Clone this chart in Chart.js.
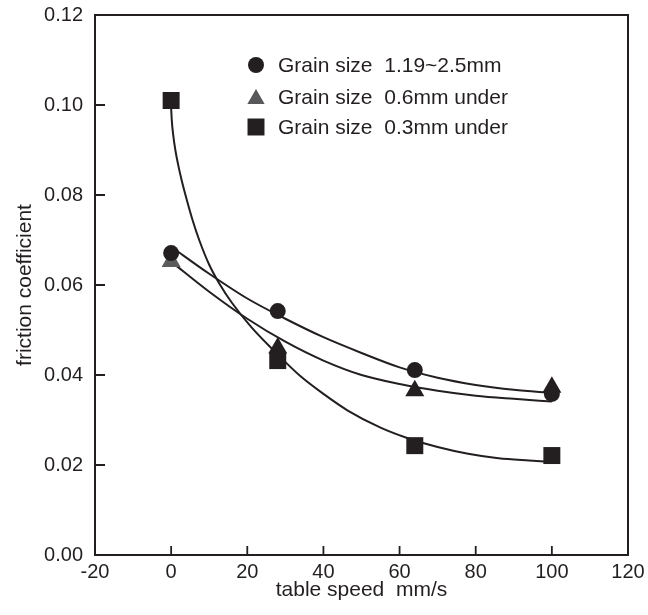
<!DOCTYPE html>
<html>
<head>
<meta charset="utf-8">
<script src="https://cdn.jsdelivr.net/npm/chart.js@4/dist/chart.umd.min.js"></script>
<style>
  html, body { margin: 0; padding: 0; background: #ffffff; }
  #wrap { width: 648px; height: 615px; }
</style>
</head>
<body>
<div id="wrap"><canvas id="chart" width="648" height="615"></canvas></div>
<script>
// Measured friction coefficients at each table speed (mm/s)
const speeds = [0, 28, 64, 100];
const coarseGrain = [0.0671, 0.0542, 0.0411, 0.0358];   // 1.19~2.5mm
const mediumGrain = [0.0652, 0.0460, 0.0365, 0.0373];   // 0.6mm under
const fineGrain   = [0.101, 0.0432, 0.0243, 0.0221];    // 0.3mm under

// Trend curves through each series
const fitSpeeds = [0, 10, 20, 30, 40, 50, 60, 70, 80, 90, 100];
const coarseFit = [0.0685, 0.0625, 0.0570, 0.0525, 0.0484, 0.0449, 0.0417, 0.0394, 0.0378, 0.0367, 0.0360];
const mediumFit = [0.0652, 0.0585, 0.0525, 0.0474, 0.0432, 0.0400, 0.0380, 0.0365, 0.0354, 0.0347, 0.0341];
const fineFitSpeeds = [0, 0.16, 0.55, 1.1, 1.85, 2.76, 4.12, 5.64, 7.37, 10, 12.6, 16, 21, 27, 34, 40, 46.4, 55, 62, 70, 78, 86, 94, 100];
const fineFit = [0.0993, 0.0967, 0.0933, 0.0900, 0.0867, 0.0833, 0.0789, 0.0744, 0.0700, 0.0645, 0.0604, 0.0560, 0.0507, 0.0454, 0.0397, 0.0358, 0.0321, 0.0283, 0.0260, 0.0240, 0.0225, 0.0215, 0.0210, 0.0207];

// Axis ticks
const xTicks = [-20, 0, 20, 40, 60, 80, 100, 120];
const yTicks = [0, 0.02, 0.04, 0.06, 0.08, 0.10, 0.12];

const seriesLabels = ['Grain size  1.19~2.5mm', 'Grain size  0.6mm under', 'Grain size  0.3mm under'];

const INK = '#231f20';
const FONT = "'Liberation Sans', Arial, Helvetica, sans-serif";

const pts = (xs, ys) => xs.map((x, i) => ({ x: x, y: ys[i] }));

const curve = (xs, ys) => ({
  data: pts(xs, ys),
  showLine: true,
  borderColor: INK,
  borderWidth: 2,
  pointRadius: 0,
  pointHoverRadius: 0,
  cubicInterpolationMode: 'monotone',
  fill: false,
  order: 2
});

const markers = (label, ys, style, radius, fillColors) => ({
  label: label,
  data: pts(speeds, ys),
  showLine: false,
  pointStyle: style,
  pointRadius: radius,
  pointBackgroundColor: fillColors,
  pointBorderColor: fillColors,
  pointBorderWidth: 0,
  order: 1
});

// Inward ticks, frame and the in-plot key
const framePlugin = {
  id: 'frame',
  afterDraw(chart) {
    const ctx = chart.ctx;
    const a = chart.chartArea;
    const xs = chart.scales.x, ys = chart.scales.y;
    ctx.save();
    ctx.strokeStyle = INK;
    ctx.lineWidth = 2;
    ctx.strokeRect(a.left, a.top, a.right - a.left, a.bottom - a.top);
    ctx.lineWidth = 1.8;
    ctx.beginPath();
    xTicks.forEach(v => {
      const p = xs.getPixelForValue(v);
      ctx.moveTo(p, a.bottom);
      ctx.lineTo(p, a.bottom - 9);
    });
    yTicks.forEach(v => {
      const p = ys.getPixelForValue(v);
      ctx.moveTo(a.left, p);
      ctx.lineTo(a.left + 10, p);
    });
    ctx.stroke();

    // key
    const keyX = a.left + 161;
    const textX = a.left + 183;
    const rows = [a.top + 50, a.top + 82, a.top + 112];
    const keyStyles = [
      { style: 'circle', r: 8, fill: INK },
      { style: 'triangle', r: 10, fill: '#58585a' },
      { style: 'rect', r: 12, fill: INK }
    ];
    ctx.font = '21px ' + FONT;
    ctx.textBaseline = 'middle';
    ctx.textAlign = 'left';
    keyStyles.forEach((k, i) => {
      ctx.fillStyle = k.fill;
      ctx.strokeStyle = k.fill;
      Chart.helpers.drawPoint(ctx, { pointStyle: k.style, radius: k.r, borderWidth: 0, rotation: 0 }, keyX, rows[i] + (k.style === 'triangle' ? 2 : 0));
      ctx.fillStyle = INK;
      ctx.fillText(seriesLabels[i], textX, rows[i] + 1);
    });
    ctx.restore();
  }
};

const noEdgePadding = s => {
  s.paddingTop = 0; s.paddingBottom = 0; s.paddingLeft = 0; s.paddingRight = 0;
};

new Chart(document.getElementById('chart'), {
  type: 'scatter',
  data: {
    datasets: [
      curve(fitSpeeds, coarseFit),
      curve(fitSpeeds, mediumFit),
      curve(fineFitSpeeds, fineFit),
      markers(seriesLabels[0], coarseGrain, 'circle', 8, INK),
      markers(seriesLabels[1], mediumGrain, 'triangle', 11, ['#5c5c5e', INK, INK, INK]),
      markers(seriesLabels[2], fineGrain, 'rect', 12, INK)
    ]
  },
  options: {
    responsive: false,
    animation: false,
    events: [],
    layout: { padding: { top: 15, right: 20, left: 0, bottom: 0 } },
    plugins: {
      legend: { display: false },
      tooltip: { enabled: false }
    },
    scales: {
      x: {
        type: 'linear',
        min: -20,
        max: 120,
        afterBuildTicks: s => { s.ticks = xTicks.map(v => ({ value: v })); },
        afterFit: s => { s.height = 60; noEdgePadding(s); },
        grid: { display: false, drawTicks: false },
        border: { display: false },
        ticks: {
          color: INK,
          font: { family: FONT, size: 20 },
          padding: 5,
          maxRotation: 0,
          callback: v => String(v)
        },
        title: {
          display: true,
          text: 'table speed  mm/s',
          color: INK,
          font: { family: FONT, size: 21 },
          padding: { top: 0, bottom: 12 }
        }
      },
      y: {
        type: 'linear',
        min: 0,
        max: 0.12,
        afterBuildTicks: s => { s.ticks = yTicks.map(v => ({ value: v })); },
        afterFit: s => { s.width = 95; noEdgePadding(s); },
        grid: { display: false, drawTicks: false },
        border: { display: false },
        ticks: {
          color: INK,
          font: { family: FONT, size: 20 },
          padding: 12,
          callback: v => Number(v).toFixed(2)
        },
        title: {
          display: true,
          text: 'friction coefficient',
          color: INK,
          font: { family: FONT, size: 21 },
          padding: { top: 13, bottom: 0 }
        }
      }
    }
  },
  plugins: [framePlugin]
});
</script>
</body>
</html>
